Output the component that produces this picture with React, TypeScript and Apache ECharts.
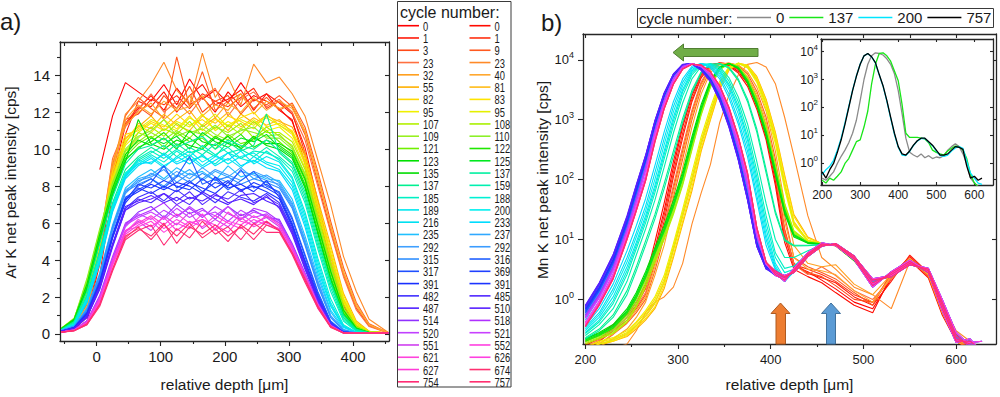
import React, { useEffect, useRef } from "react";
import * as echarts from "echarts";

const FONT = "'Liberation Sans', Arial, Helvetica, sans-serif";
const TXT = "#1a1a1a";
const AX = "#262626";

// ---------------- panel a: Ar K profiles ----------------
const depthA = [-55, -35, -15, 5, 25, 45, 65, 85, 105, 125, 145, 165, 185, 205, 225, 245, 265, 285, 305, 325, 345, 365, 385, 405, 425, 455];
const cycleNumbers = [0, 0, 1, 1, 3, 9, 23, 23, 32, 40, 55, 81, 82, 83, 95, 95, 107, 108, 109, 110, 121, 122, 123, 125, 135, 137, 137, 159, 185, 188, 189, 200, 216, 233, 235, 237, 292, 292, 315, 316, 317, 369, 391, 391, 482, 485, 487, 510, 514, 518, 520, 521, 551, 552, 621, 626, 627, 674, 754, 757];
const arCounts: (number | null)[][] = [
  [null, null, null, 8.9, 11.8, 13.6, 13.1, 12.6, 13.5, 12.4, 13.8, 12.7, 13.2, 12.5, 13.6, 12.6, 13.0, 12.1, 11.6, 9.2, 6.1, 3.4, 1.3, 0.35, 0.1, 0.05],
  [0.1, 0.25, 0.9, 3.8, 8.4, 11.3, 12.2, 12.9, 12.1, 13.3, 12.4, 12.8, 12.0, 13.1, 12.3, 12.9, 12.6, 12.2, 11.5, 9.6, 6.6, 3.9, 1.6, 0.4, 0.12, 0.05],
  [0.12, 0.2, 0.7, 3.2, 7.6, 10.8, 12.6, 12.3, 13.1, 12.0, 12.9, 13.5, 12.4, 12.7, 13.2, 12.1, 13.0, 12.5, 11.9, 10.1, 7.2, 4.2, 1.8, 0.5, 0.15, 0.05],
  [0.1, 0.3, 1.1, 4.0, 8.8, 11.6, 11.9, 12.7, 12.4, 12.9, 12.2, 13.0, 12.6, 12.3, 12.8, 13.3, 12.2, 12.6, 12.0, 9.8, 6.8, 3.7, 1.5, 0.45, 0.1, 0.05],
  [0.15, 0.4, 1.6, 4.6, 9.2, 11.4, 12.3, 11.8, 12.9, 12.2, 13.4, 12.0, 12.6, 12.9, 11.9, 12.7, 12.4, 12.9, 12.3, 10.8, 8.2, 5.6, 3.2, 1.4, 0.45, 0.06],
  [0.18, 0.45, 1.4, 4.2, 8.7, 11.8, 12.8, 12.2, 11.7, 15.0, 12.3, 14.2, 12.1, 12.6, 13.0, 12.2, 12.8, 12.1, 12.5, 11.2, 8.8, 6.1, 3.6, 1.7, 0.55, 0.06],
  [0.14, 0.38, 1.7, 4.9, 9.5, 11.2, 12.1, 13.0, 12.0, 12.6, 11.9, 12.8, 13.3, 11.8, 12.7, 13.1, 12.3, 12.7, 12.0, 10.5, 8.0, 5.5, 3.1, 1.3, 0.4, 0.05],
  [0.15, 0.35, 1.3, 4.3, 9.0, 11.9, 12.6, 13.5, 14.7, 13.2, 12.4, 15.2, 12.8, 13.9, 12.4, 14.6, 13.6, 13.9, 13.0, 11.8, 9.4, 7.0, 4.2, 2.3, 0.8, 0.08],
  [0.2, 0.5, 1.8, 5.0, 9.3, 11.3, 12.0, 12.5, 11.6, 12.2, 12.9, 11.8, 12.4, 12.1, 13.0, 11.9, 12.6, 12.2, 12.4, 11.0, 8.6, 5.8, 3.3, 1.5, 0.5, 0.06],
  [0.16, 0.42, 1.5, 4.4, 8.9, 11.6, 12.4, 11.9, 12.6, 12.1, 12.3, 12.9, 11.7, 12.5, 12.0, 12.8, 12.1, 12.6, 12.2, 10.9, 8.4, 5.9, 3.4, 1.6, 0.5, 0.06],
  [0.2, 0.6, 2.3, 5.2, 8.6, 10.6, 11.2, 11.8, 11.0, 11.6, 12.1, 11.2, 11.7, 11.0, 11.9, 11.4, 11.8, 11.5, 11.2, 9.8, 7.3, 4.8, 2.2, 0.7, 0.15, 0.05],
  [0.22, 0.65, 2.1, 4.9, 8.3, 10.3, 11.4, 11.1, 11.9, 11.3, 11.0, 11.8, 11.4, 12.0, 11.2, 11.7, 11.3, 11.6, 10.9, 9.4, 6.9, 4.4, 1.9, 0.6, 0.15, 0.05],
  [0.25, 0.7, 2.4, 5.3, 8.8, 10.8, 11.0, 11.5, 11.2, 11.9, 11.3, 11.6, 11.1, 11.8, 11.5, 11.1, 11.9, 11.3, 10.8, 9.2, 6.6, 4.2, 1.8, 0.5, 0.12, 0.05],
  [0.2, 0.6, 2.2, 5.0, 8.4, 10.5, 11.3, 10.9, 11.6, 11.1, 11.8, 11.0, 11.6, 11.3, 11.7, 12.0, 11.2, 11.4, 11.0, 9.6, 7.1, 4.6, 2.1, 0.6, 0.14, 0.05],
  [0.18, 0.55, 2.0, 4.8, 8.2, 10.2, 10.9, 11.4, 11.0, 11.5, 11.2, 11.9, 11.0, 11.5, 11.1, 11.6, 11.0, 11.2, 10.6, 9.0, 6.4, 3.9, 1.7, 0.5, 0.12, 0.05],
  [0.21, 0.62, 2.3, 5.1, 8.5, 10.4, 11.1, 11.6, 11.3, 11.0, 11.7, 11.3, 11.9, 11.2, 11.6, 11.3, 11.7, 11.3, 10.9, 9.3, 6.8, 4.3, 1.9, 0.6, 0.13, 0.05],
  [0.3, 0.8, 2.9, 5.6, 8.1, 9.9, 10.6, 11.2, 10.7, 11.4, 10.9, 11.1, 10.6, 11.3, 10.8, 11.5, 10.9, 10.9, 10.4, 8.9, 6.4, 3.9, 1.6, 0.4, 0.1, 0.05],
  [0.32, 0.85, 2.7, 5.4, 7.9, 9.7, 10.9, 10.6, 11.1, 10.8, 11.5, 10.7, 11.2, 10.9, 11.4, 10.6, 11.2, 10.7, 10.2, 8.6, 6.1, 3.7, 1.4, 0.4, 0.1, 0.05],
  [0.28, 0.78, 2.8, 5.5, 8.0, 9.9, 10.4, 10.9, 10.5, 11.0, 10.6, 11.3, 10.8, 10.5, 11.1, 10.9, 10.7, 10.8, 10.1, 8.7, 6.2, 3.6, 1.4, 0.35, 0.1, 0.05],
  [0.3, 0.82, 3.0, 5.7, 8.2, 10.0, 10.7, 11.0, 11.6, 10.7, 11.0, 10.8, 11.3, 10.7, 11.0, 11.2, 10.6, 10.6, 10.0, 8.5, 6.0, 3.5, 1.3, 0.35, 0.1, 0.05],
  [0.28, 0.75, 2.6, 5.3, 7.8, 9.6, 10.3, 10.7, 10.1, 10.9, 10.4, 10.6, 10.0, 10.8, 10.3, 10.5, 11.0, 10.4, 9.8, 8.3, 5.8, 3.3, 1.2, 0.3, 0.08, 0.05],
  [0.26, 0.72, 2.5, 5.1, 7.6, 9.4, 10.1, 10.4, 10.9, 10.2, 10.6, 10.1, 10.7, 10.3, 10.8, 10.1, 10.5, 10.2, 9.7, 8.1, 5.6, 3.1, 1.1, 0.3, 0.08, 0.05],
  [0.3, 0.8, 2.7, 5.4, 7.9, 9.7, 10.5, 10.2, 10.6, 10.0, 11.0, 10.4, 10.2, 10.7, 10.0, 10.6, 10.3, 10.3, 9.9, 8.4, 5.9, 3.4, 1.3, 0.32, 0.08, 0.05],
  [0.27, 0.74, 2.5, 5.2, 7.7, 9.5, 10.0, 10.6, 10.3, 10.7, 10.0, 10.9, 10.4, 10.1, 10.6, 10.4, 10.8, 10.1, 9.6, 8.0, 5.5, 3.0, 1.1, 0.28, 0.08, 0.05],
  [0.25, 0.7, 2.4, 5.0, 7.5, 9.3, 11.6, 10.3, 10.0, 10.5, 10.2, 10.0, 10.6, 10.3, 10.1, 10.7, 10.2, 10.0, 9.5, 7.9, 5.4, 2.9, 1.0, 0.25, 0.07, 0.05],
  [0.25, 0.68, 2.3, 4.9, 7.4, 9.2, 10.0, 10.2, 10.6, 10.1, 10.4, 10.7, 10.0, 10.5, 10.2, 10.0, 10.5, 9.9, 9.3, 7.7, 5.2, 2.8, 1.0, 0.25, 0.07, 0.05],
  [0.22, 0.6, 2.1, 4.5, 7.1, 8.9, 9.6, 10.1, 9.7, 10.3, 9.8, 10.0, 9.6, 10.4, 9.9, 10.2, 11.9, 9.8, 9.2, 7.5, 5.0, 2.7, 0.9, 0.2, 0.06, 0.05],
  [0.2, 0.58, 2.0, 4.4, 7.0, 8.7, 9.4, 9.8, 10.2, 9.6, 10.1, 9.7, 10.3, 9.8, 10.0, 9.6, 10.1, 9.6, 9.0, 7.3, 4.8, 2.5, 0.8, 0.18, 0.06, 0.05],
  [0.21, 0.6, 2.0, 4.3, 6.9, 8.6, 9.5, 9.9, 9.5, 10.0, 9.6, 10.2, 9.7, 10.1, 9.5, 9.9, 9.8, 9.5, 8.8, 7.1, 4.6, 2.3, 0.7, 0.15, 0.05, 0.05],
  [0.2, 0.5, 1.8, 4.0, 6.8, 8.6, 9.3, 9.7, 9.3, 9.9, 9.4, 9.6, 9.2, 9.8, 9.5, 9.3, 9.9, 9.4, 8.5, 6.6, 4.1, 1.9, 0.5, 0.1, 0.05, 0.05],
  [0.19, 0.48, 1.7, 3.9, 6.7, 8.5, 9.4, 9.2, 9.8, 9.3, 9.7, 9.1, 9.6, 9.4, 9.9, 9.2, 9.6, 9.3, 8.4, 6.4, 3.9, 1.7, 0.45, 0.1, 0.05, 0.05],
  [0.2, 0.52, 1.9, 4.1, 6.9, 8.7, 9.2, 9.6, 9.1, 9.5, 9.9, 9.3, 9.7, 9.2, 9.6, 9.8, 9.3, 9.1, 8.2, 6.2, 3.7, 1.6, 0.4, 0.08, 0.05, 0.05],
  [0.18, 0.47, 1.7, 3.8, 6.6, 8.4, 9.1, 9.5, 9.0, 9.6, 9.2, 9.7, 9.1, 9.5, 9.0, 9.6, 9.2, 8.9, 8.0, 6.0, 3.5, 1.5, 0.4, 0.08, 0.05, 0.05],
  [0.19, 0.5, 1.8, 4.0, 6.7, 8.5, 9.2, 9.3, 9.7, 9.2, 9.5, 9.0, 9.4, 9.8, 9.1, 9.4, 9.0, 8.8, 7.8, 5.8, 3.3, 1.3, 0.35, 0.07, 0.05, 0.05],
  [0.2, 0.42, 1.4, 3.3, 5.9, 7.9, 8.5, 8.9, 8.4, 9.0, 8.6, 8.8, 8.3, 9.1, 8.5, 8.7, 8.4, 8.3, 7.3, 5.3, 3.1, 1.2, 0.25, 0.05, 0.05, 0.05],
  [0.19, 0.4, 1.3, 3.2, 5.8, 7.7, 8.4, 8.6, 9.1, 8.5, 8.9, 8.3, 8.8, 8.5, 9.0, 8.4, 8.6, 8.2, 7.1, 5.1, 2.9, 1.0, 0.22, 0.05, 0.05, 0.05],
  [0.2, 0.41, 1.3, 3.1, 5.7, 7.8, 8.2, 8.7, 8.3, 8.8, 8.4, 9.0, 8.5, 8.2, 8.8, 8.6, 8.3, 8.1, 7.0, 5.0, 2.8, 1.0, 0.2, 0.05, 0.05, 0.05],
  [0.18, 0.39, 1.2, 3.0, 5.6, 7.6, 8.3, 8.5, 8.9, 8.2, 8.7, 8.4, 8.9, 8.6, 8.3, 8.8, 8.5, 8.0, 6.9, 4.9, 2.7, 0.9, 0.2, 0.05, 0.05, 0.05],
  [0.19, 0.4, 1.3, 3.2, 5.8, 7.7, 8.1, 8.4, 8.0, 8.6, 8.2, 8.7, 8.3, 8.5, 8.1, 8.4, 8.2, 7.9, 6.8, 4.8, 2.6, 0.9, 0.18, 0.05, 0.05, 0.05],
  [0.15, 0.35, 1.1, 2.8, 5.3, 7.3, 8.0, 8.4, 7.9, 8.5, 9.6, 8.1, 8.4, 7.8, 8.3, 8.8, 8.0, 7.7, 6.3, 4.3, 2.3, 0.7, 0.12, 0.05, 0.05, 0.05],
  [0.16, 0.36, 1.2, 2.9, 5.4, 7.4, 7.8, 8.2, 9.1, 7.9, 8.3, 7.7, 8.2, 8.0, 8.9, 7.9, 8.1, 7.6, 6.2, 4.2, 2.2, 0.65, 0.1, 0.05, 0.05, 0.05],
  [0.14, 0.34, 1.0, 2.7, 5.2, 7.2, 8.1, 7.9, 8.3, 8.0, 7.8, 8.4, 7.9, 8.3, 7.7, 8.2, 7.9, 7.5, 6.0, 4.0, 2.1, 0.6, 0.1, 0.05, 0.05, 0.05],
  [0.15, 0.35, 1.1, 2.8, 5.3, 7.3, 7.7, 8.1, 7.8, 8.2, 8.0, 7.6, 8.5, 7.9, 8.1, 7.7, 8.3, 7.4, 5.9, 3.9, 2.0, 0.55, 0.1, 0.05, 0.05, 0.05],
  [0.15, 0.34, 1.1, 2.7, 5.2, 7.1, 7.9, 7.6, 8.0, 7.7, 8.2, 7.9, 7.6, 8.2, 7.8, 8.0, 7.7, 7.3, 5.8, 3.8, 1.9, 0.5, 0.08, 0.05, 0.05, 0.05],
  [0.14, 0.3, 0.9, 2.5, 4.8, 6.8, 7.4, 7.7, 7.2, 7.8, 7.3, 7.6, 7.1, 7.7, 7.4, 7.2, 7.6, 7.1, 5.7, 3.8, 2.0, 0.6, 0.1, 0.05, 0.05, 0.05],
  [0.13, 0.29, 0.9, 2.4, 4.7, 6.7, 7.3, 7.1, 7.6, 7.2, 7.7, 7.0, 7.5, 7.3, 7.8, 7.1, 7.4, 7.0, 5.6, 3.7, 1.9, 0.55, 0.08, 0.05, 0.05, 0.05],
  [0.14, 0.31, 1.0, 2.6, 4.9, 6.9, 7.2, 7.5, 7.1, 7.4, 7.0, 7.7, 7.3, 7.0, 7.5, 7.6, 7.2, 6.9, 5.5, 3.6, 1.8, 0.5, 0.08, 0.05, 0.05, 0.05],
  [0.13, 0.3, 0.9, 2.5, 4.8, 6.7, 7.1, 7.3, 7.6, 7.0, 7.4, 7.2, 7.6, 7.1, 7.3, 7.0, 7.5, 6.8, 5.4, 3.5, 1.8, 0.5, 0.08, 0.05, 0.05, 0.05],
  [0.1, 0.22, 0.7, 2.0, 4.1, 5.9, 6.6, 6.9, 6.3, 7.0, 6.5, 6.8, 6.2, 6.9, 6.4, 6.7, 6.3, 6.2, 4.9, 3.3, 1.7, 0.5, 0.07, 0.05, 0.05, 0.05],
  [0.11, 0.23, 0.7, 2.1, 4.2, 6.0, 6.4, 6.7, 7.1, 6.4, 6.8, 6.3, 6.9, 6.5, 6.2, 6.8, 6.6, 6.1, 4.8, 3.2, 1.6, 0.45, 0.06, 0.05, 0.05, 0.05],
  [0.1, 0.21, 0.65, 1.9, 4.0, 5.8, 6.5, 6.2, 6.7, 6.3, 6.9, 6.4, 6.6, 6.1, 6.7, 6.3, 6.5, 6.0, 4.7, 3.1, 1.5, 0.4, 0.06, 0.05, 0.05, 0.05],
  [0.1, 0.22, 0.7, 2.0, 4.1, 5.9, 6.3, 6.6, 6.2, 6.8, 6.3, 6.7, 6.4, 6.9, 6.2, 6.6, 6.4, 6.0, 4.8, 3.2, 1.6, 0.45, 0.06, 0.05, 0.05, 0.05],
  [0.1, 0.2, 0.6, 1.8, 3.8, 5.5, 6.1, 5.6, 6.4, 5.9, 6.6, 5.7, 6.2, 5.8, 6.5, 6.0, 6.3, 5.8, 4.6, 3.1, 1.6, 0.45, 0.06, 0.05, 0.05, 0.05],
  [0.1, 0.2, 0.55, 1.7, 3.7, 5.4, 5.9, 6.3, 5.7, 6.2, 5.8, 6.5, 5.6, 6.1, 5.9, 6.4, 6.0, 5.7, 4.5, 3.0, 1.5, 0.4, 0.05, 0.05, 0.05, 0.05],
  [0.1, 0.19, 0.6, 1.8, 3.9, 5.6, 5.8, 6.1, 5.5, 6.0, 5.7, 6.2, 5.9, 5.5, 6.3, 5.8, 6.1, 5.6, 4.4, 2.9, 1.4, 0.4, 0.05, 0.05, 0.05, 0.05],
  [0.1, 0.2, 0.6, 1.8, 3.8, 5.5, 6.2, 5.8, 6.3, 5.6, 6.1, 5.8, 6.4, 6.0, 5.7, 6.2, 5.9, 5.7, 4.5, 3.0, 1.5, 0.4, 0.05, 0.05, 0.05, 0.05],
  [0.1, 0.21, 0.65, 1.9, 3.9, 5.6, 6.0, 6.4, 5.9, 6.5, 6.0, 6.2, 5.7, 6.6, 6.1, 5.9, 6.4, 5.9, 4.7, 3.2, 1.6, 0.45, 0.06, 0.05, 0.05, 0.05],
  [0.1, 0.18, 0.5, 1.6, 3.5, 5.2, 5.8, 5.1, 5.9, 5.3, 6.0, 5.2, 5.7, 5.0, 5.9, 5.4, 6.1, 5.6, 4.4, 2.9, 1.5, 0.4, 0.05, 0.05, 0.05, 0.05],
  [0.1, 0.17, 0.5, 1.5, 3.4, 5.1, 5.6, 5.9, 4.8, 5.7, 5.2, 6.1, 5.4, 5.8, 5.1, 6.0, 5.5, 5.5, 4.3, 2.8, 1.4, 0.35, 0.05, 0.05, 0.05, 0.05],
  [0.1, 0.18, 0.55, 1.6, 3.5, 5.3, 5.7, 5.3, 6.0, 4.9, 5.8, 5.4, 5.9, 5.3, 5.8, 5.1, 5.9, 5.6, 4.4, 3.0, 1.5, 0.4, 0.05, 0.05, 0.05, 0.05],
];

// ---------------- panel b: Mn K profiles ----------------
const depthB = [200, 215, 230, 245, 255, 265, 275, 285, 295, 305, 315, 325, 335, 345, 355, 365, 375, 385, 395, 405, 415, 425, 440, 455, 470, 490, 510, 530, 550, 570, 585, 600, 615, 628];
const mnCounts: number[][] = [
  [0.18, 0.22, 0.32, 0.55, 0.9, 1.8, 7, 30, 160, 750, 2500, 5700, 8200, 8800, 8100, 6400, 4000, 1700, 520, 95, 11, 3.6, 2.9, 2.1, 1.5, 0.9, 0.7, 2.2, 4.5, 2.3, 0.55, 0.2, 0.14, 0.12],
  [0.2, 0.25, 0.38, 0.6, 1.1, 2.2, 9, 40, 200, 850, 2700, 6000, 8400, 8700, 7900, 6000, 3600, 1500, 460, 80, 9, 3.2, 2.4, 1.9, 1.3, 0.8, 0.6, 2.5, 5.2, 2.6, 0.6, 0.22, 0.15, 0.12],
  [0.15, 0.2, 0.3, 0.5, 0.8, 1.5, 5, 20, 110, 500, 2000, 5000, 7900, 8900, 8500, 7000, 4500, 2100, 700, 130, 14, 4, 2.7, 2.3, 1.9, 1.1, 0.8, 2, 5.5, 2.8, 0.7, 0.22, 0.15, 0.12],
  [0.17, 0.22, 0.34, 0.55, 0.9, 1.7, 6, 25, 130, 600, 2200, 5300, 8000, 8800, 8300, 6800, 4300, 1900, 600, 110, 12, 3.8, 3.2, 2.6, 2, 1.2, 0.9, 2.3, 4.9, 2.5, 0.6, 0.2, 0.15, 0.12],
  [0.15, 0.2, 0.3, 0.45, 0.7, 1.2, 4, 15, 70, 300, 1300, 4000, 7500, 8800, 8600, 7500, 5000, 2400, 800, 150, 15, 4, 2.8, 2.4, 1.7, 1, 0.9, 2.6, 4.8, 2.5, 0.6, 0.2, 0.15, 0.12],
  [0.14, 0.18, 0.26, 0.4, 0.6, 1, 3, 11, 50, 220, 1000, 3300, 6800, 8500, 8800, 8000, 5800, 3000, 1100, 220, 25, 5, 3.5, 2.8, 2.2, 1.3, 0.8, 2.8, 4.6, 2.4, 0.6, 0.2, 0.15, 0.12],
  [0.16, 0.21, 0.31, 0.5, 0.75, 1.3, 4.5, 17, 80, 350, 1450, 4300, 7700, 8800, 8500, 7300, 4800, 2200, 720, 130, 13, 3.8, 2.6, 3.5, 2.5, 1.4, 1, 2.2, 4.4, 2.6, 0.65, 0.22, 0.15, 0.12],
  [0.12, 0.13, 0.15, 0.18, 0.3, 0.6, 0.9, 1.1, 1.6, 4, 18, 60, 180, 900, 2600, 5600, 8400, 9000, 7600, 4000, 1100, 250, 25, 5, 3.2, 1.6, 1.2, 0.7, 4.3, 3, 0.9, 0.3, 0.2, 0.15],
  [0.13, 0.16, 0.22, 0.32, 0.5, 0.9, 2.5, 8, 35, 160, 750, 2700, 6200, 8300, 8800, 8200, 6300, 3500, 1400, 300, 40, 8, 4, 3.5, 3.8, 1.8, 1.2, 2.6, 4.7, 2.7, 0.7, 0.22, 0.16, 0.12],
  [0.14, 0.18, 0.27, 0.42, 0.65, 1.1, 3.5, 13, 60, 260, 1150, 3700, 7200, 8700, 8700, 7700, 5300, 2700, 950, 180, 20, 5, 3.2, 3, 2.6, 1.4, 0.9, 2.4, 4.9, 2.6, 0.6, 0.2, 0.15, 0.12],
  [0.15, 0.17, 0.2, 0.24, 0.32, 0.45, 0.7, 1.5, 5, 18, 65, 300, 1000, 3200, 6700, 8700, 8200, 5300, 2200, 620, 120, 26, 11, 8.6, 7.8, 4.4, 2.1, 2.4, 4.1, 3.1, 0.9, 0.25, 0.18, 0.15],
  [0.15, 0.18, 0.21, 0.26, 0.36, 0.52, 0.85, 1.9, 6.5, 24, 90, 380, 1200, 3700, 7200, 8800, 7800, 4800, 1900, 500, 90, 20, 9.5, 8.4, 8.1, 4.6, 2, 2.5, 3.9, 3, 0.9, 0.24, 0.18, 0.15],
  [0.16, 0.19, 0.22, 0.28, 0.4, 0.6, 1, 2.2, 7.5, 28, 110, 450, 1400, 4000, 7400, 8800, 7600, 4500, 1700, 450, 80, 18, 9.5, 8.5, 8.2, 4.7, 2.1, 2.6, 4, 2.9, 0.85, 0.24, 0.17, 0.15],
  [0.15, 0.18, 0.2, 0.25, 0.34, 0.48, 0.75, 1.7, 5.5, 20, 75, 330, 1050, 3400, 6900, 8800, 8100, 5100, 2100, 580, 110, 24, 10.5, 8.6, 7.9, 4.5, 1.9, 2.5, 4.2, 3, 0.9, 0.26, 0.18, 0.15],
  [0.16, 0.2, 0.23, 0.3, 0.42, 0.65, 1.1, 2.5, 8.5, 32, 130, 520, 1600, 4400, 7700, 8700, 7300, 4200, 1500, 400, 70, 17, 9.5, 8.4, 8, 4.6, 2, 2.4, 4, 3, 0.9, 0.25, 0.18, 0.15],
  [0.15, 0.18, 0.21, 0.27, 0.37, 0.55, 0.9, 2, 7, 26, 100, 420, 1300, 3900, 7300, 8800, 7700, 4600, 1800, 480, 85, 19, 9.8, 8.5, 8.1, 4.5, 2, 2.5, 4.1, 3, 0.9, 0.25, 0.18, 0.15],
  [0.18, 0.22, 0.27, 0.42, 0.75, 1.6, 4.2, 10, 26, 80, 310, 1200, 3500, 6800, 8700, 7800, 5000, 2300, 780, 180, 40, 14, 9.2, 8.6, 8, 4.6, 2, 2.5, 4, 3, 0.9, 0.25, 0.18, 0.15],
  [0.19, 0.23, 0.28, 0.45, 0.8, 1.8, 4.6, 11, 28, 85, 330, 1250, 3600, 6900, 8700, 7700, 4900, 2200, 740, 170, 38, 13.5, 9.1, 8.5, 8.1, 4.5, 2.1, 2.4, 4.1, 3.1, 0.9, 0.25, 0.18, 0.15],
  [0.2, 0.24, 0.3, 0.5, 0.9, 2, 5, 12, 30, 90, 350, 1300, 3700, 7000, 8700, 7600, 4800, 2100, 700, 160, 35, 13, 9, 8.5, 8, 4.5, 2, 2.5, 4, 3, 0.9, 0.25, 0.18, 0.15],
  [0.2, 0.25, 0.32, 0.55, 1, 2.2, 5.5, 13, 33, 100, 380, 1400, 3900, 7200, 8700, 7500, 4600, 2000, 660, 150, 33, 12.5, 9, 8.4, 8, 4.4, 2, 2.6, 4, 2.9, 0.85, 0.24, 0.18, 0.15],
  [0.21, 0.26, 0.34, 0.6, 1.1, 2.4, 6, 14, 36, 110, 420, 1500, 4100, 7400, 8700, 7400, 4500, 1900, 620, 140, 31, 12, 8.8, 8.4, 8.1, 4.6, 2, 2.5, 4.1, 3, 0.9, 0.25, 0.18, 0.15],
  [0.2, 0.25, 0.33, 0.58, 1.05, 2.3, 5.8, 13.5, 35, 105, 400, 1450, 4000, 7300, 8700, 7500, 4550, 1950, 640, 145, 32, 12, 8.9, 8.5, 8, 4.5, 2, 2.5, 4, 3, 0.9, 0.25, 0.18, 0.15],
  [0.22, 0.27, 0.36, 0.65, 1.2, 2.6, 6.5, 15, 40, 120, 460, 1600, 4300, 7500, 8700, 7300, 4300, 1800, 580, 130, 29, 11.5, 8.8, 8.4, 8, 4.5, 2, 2.5, 4, 3, 0.9, 0.25, 0.18, 0.15],
  [0.21, 0.26, 0.35, 0.62, 1.15, 2.5, 6.2, 14.5, 38, 115, 440, 1550, 4200, 7400, 8700, 7400, 4400, 1850, 600, 135, 30, 11.8, 8.8, 8.4, 8, 4.5, 2, 2.5, 4, 3, 0.9, 0.25, 0.18, 0.15],
  [0.22, 0.28, 0.38, 0.7, 1.3, 2.9, 7.2, 17, 45, 135, 520, 1800, 4600, 7700, 8700, 7100, 4100, 1700, 540, 120, 27, 11, 8.7, 8.3, 8, 4.5, 2, 2.5, 4, 3, 0.9, 0.25, 0.18, 0.15],
  [0.22, 0.3, 0.5, 1.2, 3, 8, 22, 70, 250, 900, 2800, 6000, 8300, 8700, 7500, 4800, 2200, 700, 150, 30, 10, 8, 8, 8.3, 8.1, 4.8, 2, 2.5, 4, 3, 0.85, 0.24, 0.18, 0.15],
  [0.23, 0.32, 0.55, 1.4, 3.5, 9.5, 26, 85, 300, 1050, 3100, 6300, 8400, 8600, 7200, 4500, 2000, 620, 130, 27, 9.5, 7.8, 7.9, 8.2, 8, 4.7, 2, 2.5, 4, 3, 0.85, 0.24, 0.18, 0.15],
  [0.25, 0.38, 0.7, 2, 5.5, 15, 45, 160, 600, 1900, 4800, 7800, 8700, 7700, 5000, 2400, 850, 200, 40, 10, 5, 5, 6.5, 8.1, 8.2, 4.8, 2, 2.5, 4, 3, 0.85, 0.24, 0.18, 0.15],
  [0.27, 0.42, 0.85, 2.6, 7, 19, 60, 220, 800, 2500, 5600, 8200, 8600, 7200, 4400, 2000, 650, 140, 25, 6, 3.3, 3.6, 5.8, 8, 8.2, 4.9, 1.9, 2.6, 4, 3, 0.8, 0.23, 0.18, 0.15],
  [0.28, 0.45, 0.95, 3, 8, 22, 70, 260, 950, 2900, 6100, 8500, 8400, 6700, 3900, 1700, 520, 110, 19, 5, 2.8, 3.2, 5.6, 8, 8.2, 5, 1.9, 2.6, 4, 3, 0.8, 0.22, 0.18, 0.15],
  [0.3, 0.5, 1.1, 3.5, 9, 25, 80, 300, 1100, 3200, 6500, 8600, 8300, 6300, 3600, 1500, 450, 90, 15, 4, 2.2, 3, 5.5, 8, 8.2, 5, 1.9, 2.6, 4, 3, 0.8, 0.22, 0.18, 0.15],
  [0.32, 0.55, 1.3, 4.2, 11, 30, 100, 380, 1350, 3700, 6900, 8700, 8000, 5800, 3200, 1250, 370, 72, 12, 3.6, 2, 2.9, 5.5, 8.1, 8.3, 5, 1.9, 2.6, 4, 3, 0.8, 0.22, 0.18, 0.15],
  [0.34, 0.6, 1.5, 5, 13, 36, 130, 480, 1650, 4200, 7400, 8700, 7600, 5300, 2700, 1000, 300, 55, 10, 3.3, 2, 2.9, 5.5, 8, 8.2, 5, 1.9, 2.6, 4, 3, 0.8, 0.22, 0.18, 0.15],
  [0.36, 0.7, 1.8, 6.5, 17, 48, 170, 620, 2000, 4800, 7800, 8700, 7300, 4800, 2300, 850, 240, 45, 8, 3.1, 2.1, 2.9, 5.4, 8, 8.2, 5, 1.9, 2.6, 4, 3, 0.8, 0.22, 0.18, 0.15],
  [0.45, 1.1, 3.2, 14, 45, 150, 640, 2000, 4700, 7600, 8700, 7900, 5700, 3100, 1250, 390, 90, 12, 4, 2.6, 2.1, 3.1, 5.8, 8.4, 8.1, 4.7, 1.7, 2.8, 4.3, 2.8, 0.7, 0.2, 0.2, 0.14],
  [0.5, 1.2, 3.5, 15, 50, 170, 700, 2200, 5000, 7800, 8700, 7800, 5600, 3000, 1200, 380, 85, 12, 4, 3, 2.4, 2.8, 5.2, 7.7, 8.6, 5.3, 2.1, 2.4, 3.8, 3.2, 0.9, 0.25, 0.16, 0.17],
  [0.55, 1.3, 3.8, 16, 54, 180, 740, 2300, 5200, 8000, 8700, 7600, 5300, 2800, 1100, 340, 75, 11, 3.8, 2.7, 2, 3.3, 6, 8.8, 7.9, 4.6, 1.6, 2.9, 4.5, 2.9, 0.65, 0.19, 0.22, 0.13],
  [0.5, 1.25, 3.6, 15.5, 52, 175, 720, 2250, 5100, 7900, 8700, 7700, 5400, 2900, 1150, 360, 80, 11.5, 3.9, 2.9, 2.5, 2.9, 5.3, 7.9, 8.5, 5.2, 2.2, 2.5, 3.9, 3.3, 1, 0.28, 0.17, 0.16],
  [0.58, 1.35, 3.9, 17, 57, 190, 770, 2400, 5300, 8100, 8700, 7400, 5000, 2600, 1000, 300, 65, 10, 3.6, 2.5, 2.2, 3.2, 5.6, 8.2, 8.2, 4.9, 1.8, 2.7, 4.1, 3.1, 0.75, 0.21, 0.19, 0.2],
  [0.62, 1.45, 4.2, 19, 62, 205, 810, 2500, 5500, 8200, 8700, 7200, 4800, 2400, 900, 260, 55, 9, 3.5, 2.8, 2.3, 3, 5.5, 8, 8.3, 5, 1.9, 2.6, 4, 3, 0.8, 0.22, 0.18, 0.15],
  [0.6, 1.4, 4, 18, 60, 200, 800, 2500, 5500, 8200, 8700, 7200, 4800, 2400, 900, 260, 55, 9, 3.5, 2.6, 2.1, 3.1, 5.8, 8.4, 8.1, 4.7, 1.7, 2.8, 4.3, 2.8, 0.7, 0.2, 0.2, 0.14],
  [0.65, 1.5, 4.4, 20, 66, 215, 840, 2550, 5550, 8250, 8650, 7100, 4700, 2300, 860, 245, 52, 8.6, 3.4, 3, 2.4, 2.8, 5.2, 7.7, 8.6, 5.3, 2.1, 2.4, 3.8, 3.2, 0.9, 0.25, 0.16, 0.17],
  [0.7, 1.6, 4.7, 21, 70, 225, 870, 2600, 5600, 8300, 8600, 7000, 4600, 2250, 830, 235, 50, 8.3, 3.4, 2.7, 2, 3.3, 6, 8.8, 7.9, 4.6, 1.6, 2.9, 4.5, 2.9, 0.65, 0.19, 0.22, 0.13],
  [0.68, 1.55, 4.5, 20.5, 68, 220, 850, 2580, 5580, 8280, 8620, 7050, 4650, 2280, 845, 240, 51, 8.5, 3.4, 2.9, 2.5, 2.9, 5.3, 7.9, 8.5, 5.2, 2.2, 2.5, 3.9, 3.3, 1, 0.28, 0.17, 0.16],
  [0.72, 1.7, 5, 22, 74, 235, 900, 2650, 5650, 8300, 8600, 6900, 4500, 2200, 800, 225, 48, 8, 3.3, 2.5, 2.2, 3.2, 5.6, 8.2, 8.2, 4.9, 1.8, 2.7, 4.1, 3.1, 0.75, 0.21, 0.19, 0.2],
  [0.75, 1.8, 5.3, 23, 78, 245, 930, 2700, 5700, 8350, 8550, 6800, 4400, 2150, 780, 220, 47, 7.8, 3.3, 2.8, 2.3, 3, 5.5, 8, 8.3, 5, 1.9, 2.6, 4, 3, 0.8, 0.22, 0.18, 0.15],
  [0.78, 1.85, 5.5, 24, 80, 250, 950, 2750, 5750, 8350, 8550, 6750, 4350, 2100, 760, 215, 46, 7.7, 3.2, 2.6, 2.1, 3.1, 5.8, 8.4, 8.1, 4.7, 1.7, 2.8, 4.3, 2.8, 0.7, 0.2, 0.2, 0.14],
  [0.8, 1.9, 5.6, 25, 82, 255, 960, 2800, 5800, 8400, 8500, 6700, 4300, 2050, 740, 210, 45, 7.6, 3.2, 3, 2.4, 2.8, 5.2, 7.7, 8.6, 5.3, 2.1, 2.4, 3.8, 3.2, 0.9, 0.25, 0.16, 0.17],
  [0.55, 1.2, 3.5, 15, 48, 160, 650, 2100, 4900, 7800, 8700, 7600, 5300, 2800, 1100, 330, 75, 11, 3.8, 2.7, 2, 3.3, 6, 8.8, 7.9, 4.6, 1.6, 2.9, 4.5, 2.9, 0.65, 0.19, 0.22, 0.13],
  [0.52, 1.15, 3.3, 14.5, 46, 155, 630, 2050, 4850, 7750, 8700, 7650, 5350, 2850, 1120, 340, 77, 11.2, 3.8, 2.9, 2.5, 2.9, 5.3, 7.9, 8.5, 5.2, 2.2, 2.5, 3.9, 3.3, 1, 0.28, 0.17, 0.16],
  [0.5, 1.1, 3.2, 14, 44, 150, 610, 2000, 4800, 7700, 8700, 7700, 5400, 2900, 1150, 350, 80, 11.5, 3.9, 2.5, 2.2, 3.2, 5.6, 8.2, 8.2, 4.9, 1.8, 2.7, 4.1, 3.1, 0.75, 0.21, 0.19, 0.2],
  [0.48, 1.05, 3, 13.5, 42, 140, 590, 1950, 4700, 7600, 8650, 7750, 5500, 3000, 1200, 370, 85, 12, 3.9, 2.8, 2.3, 3, 5.5, 8, 8.3, 5, 1.9, 2.6, 4, 3, 0.8, 0.22, 0.18, 0.15],
  [0.42, 0.95, 2.7, 12.5, 37, 120, 520, 1750, 4300, 7300, 8550, 7950, 5900, 3300, 1350, 430, 100, 13, 4, 2.6, 2.1, 3.1, 5.8, 8.4, 8.1, 4.7, 1.7, 2.8, 4.3, 2.8, 0.7, 0.2, 0.2, 0.14],
  [0.4, 0.9, 2.5, 12, 35, 110, 500, 1700, 4200, 7200, 8500, 8000, 6000, 3400, 1400, 450, 110, 14, 4, 3, 2.4, 2.8, 5.2, 7.7, 8.6, 5.3, 2.1, 2.4, 3.8, 3.2, 0.9, 0.25, 0.16, 0.17],
  [0.38, 0.88, 2.4, 11.5, 34, 105, 480, 1650, 4100, 7100, 8500, 8050, 6100, 3500, 1450, 470, 115, 14.5, 4.1, 2.7, 2, 3.3, 6, 8.8, 7.9, 4.6, 1.6, 2.9, 4.5, 2.9, 0.65, 0.19, 0.22, 0.13],
  [0.4, 0.9, 2.5, 12, 35, 110, 500, 1700, 4200, 7200, 8500, 8000, 6000, 3400, 1400, 450, 110, 14, 4, 2.9, 2.5, 2.9, 5.3, 7.9, 8.5, 5.2, 2.2, 2.5, 3.9, 3.3, 1, 0.28, 0.17, 0.16],
  [0.37, 0.85, 2.35, 11, 33, 100, 470, 1620, 4050, 7050, 8480, 8080, 6150, 3550, 1480, 480, 118, 15, 4.1, 2.5, 2.2, 3.2, 5.6, 8.2, 8.2, 4.9, 1.8, 2.7, 4.1, 3.1, 0.75, 0.21, 0.19, 0.2],
  [0.35, 0.8, 2.2, 10, 30, 95, 420, 1500, 3900, 7000, 8400, 8200, 6300, 3700, 1600, 520, 130, 16, 4.2, 2.8, 2.3, 3, 5.5, 8, 8.3, 5, 1.9, 2.6, 4, 3, 0.8, 0.22, 0.18, 0.15],
  [0.36, 0.82, 2.25, 10.5, 31, 98, 440, 1550, 3950, 7050, 8420, 8150, 6250, 3650, 1570, 510, 125, 15.5, 4.2, 2.6, 2.1, 3.1, 5.8, 8.4, 8.1, 4.7, 1.7, 2.8, 4.3, 2.8, 0.7, 0.2, 0.2, 0.14],
  [0.35, 0.8, 2.2, 10, 30, 95, 420, 1500, 3900, 7000, 8400, 8200, 6300, 3700, 1600, 520, 130, 16, 4.2, 3, 2.4, 2.8, 5.2, 7.7, 8.6, 5.3, 2.1, 2.4, 3.8, 3.2, 0.9, 0.25, 0.16, 0.17],
];

// ---------------- inset ----------------
const insetDepth = [200, 210, 220, 230, 240, 250, 260, 270, 280, 290, 300, 310, 320, 330, 340, 350, 360, 370, 380, 390, 400, 410, 420, 430, 440, 450, 460, 470, 480, 490, 500, 510, 520, 530, 540, 550, 560, 570, 580, 590, 600, 610, 620];
const insetCycles = ["0", "137", "200", "757"];
const insetMn0 = [0.3, 0.25, 0.35, 0.5, 1, 1.8, 3, 5.5, 12, 35, 180, 1000, 3500, 7000, 9000, 8500, 7500, 5500, 3500, 1600, 400, 60, 8, 2.5, 2, 1.7, 2.2, 1.6, 1.9, 1.5, 1.7, 1.6, 1.9, 3, 4, 5, 4, 2.2, 1, 0.3, 0.2, 0.15, 0.12];
const insetMn137 = [0.25, 0.2, 0.3, 0.25, 0.35, 0.5, 1, 1.5, 3, 6, 7, 20, 75, 700, 3500, 8500, 9000, 7000, 4500, 2000, 900, 130, 12, 8.5, 8.5, 8.5, 8, 7.5, 5.5, 3, 2.5, 2.2, 2, 2.8, 3.5, 4.2, 4, 3, 1.5, 0.4, 0.2, 0.15, 0.12];
const insetMn200 = [0.4, 0.6, 0.8, 1.3, 3, 8, 28, 110, 420, 1350, 3600, 7000, 8400, 6400, 3900, 1450, 580, 170, 42, 11, 3.8, 2, 1.9, 2.7, 4.4, 6.3, 7.8, 7.8, 5.8, 4.3, 2.8, 1.9, 1.8, 2, 2.8, 3.6, 4, 3.5, 1.2, 0.45, 0.3, 0.2, 0.18];
const insetMn757 = [0.5, 0.3, 0.6, 1, 2.5, 7, 25, 100, 400, 1300, 3500, 7000, 8500, 6500, 4000, 1500, 600, 180, 45, 12, 4, 2.2, 2, 2.8, 4.5, 6.5, 8, 8, 6, 4.5, 3, 2, 2, 2.2, 3, 4, 3.8, 3.2, 0.8, 0.3, 0.35, 0.25, 0.3];

// ---------------- ticks ----------------
const xTicksA = [0, 100, 200, 300, 400];
const xMinorA = [-50, 50, 150, 250, 350, 450];
const xTopA = [-50, 0, 50, 100, 150, 200, 250, 300, 350, 400, 450];
const yTicksA = [0, 2, 4, 6, 8, 10, 12, 14];
const yMinorA = [1, 3, 5, 7, 9, 11, 13, 15];
const xTicksB = [200, 300, 400, 500, 600];
const xMinorB = [250, 350, 450, 550];
const xTopB = [200, 250, 300, 350, 400, 450, 500, 550, 600];
const decades = [1, 10, 100, 1000, 10000];
const xTicksInset = [200, 300, 400, 500, 600];

// ---------------- styles ----------------
const lineColors = [
  "#ff0000", "#ff0a00", "#ff1a0a", "#ff3010", "#ff4a18", "#ff5a20", "#ff7040", "#ff8a28", "#ffa020", "#ffa830",
  "#ffb000", "#ffbc18", "#ffd800", "#ffe400", "#f0f000", "#e4f000", "#b4f000", "#a8f000", "#98f020", "#8cf028",
  "#70f000", "#20e800", "#00e000", "#00e820", "#00dc00", "#00f0a0", "#00f090", "#00f0b0", "#00f0c4", "#00f0d4",
  "#00e8f0", "#00f0f0", "#00e0f0", "#00dcff", "#20c0ff", "#30a8ff", "#40a0ff", "#3c9cff", "#3090ff", "#2060ff",
  "#2050ff", "#2040ff", "#1830ff", "#1c34ff", "#4030ff", "#5028ff", "#5020ff", "#5820ff", "#9030ff", "#b030ff",
  "#c040ff", "#c840ff", "#d040f0", "#ff40e0", "#ff44dc", "#ff40e0", "#ff3cd8", "#ff3070", "#ff2c74", "#ff3070",
];
const insetColors = ["#8a8a8a", "#19e619", "#00e5ff", "#000000"];

function buildOption(): any {
  const axLine = { show: true, onZero: false, lineStyle: { color: AX, width: 1.3 } };
  const noLine = { show: false, onZero: false };
  const tick = (values: number[], len: number, inside: boolean) => ({
    show: true, customValues: values, length: len, inside, lineStyle: { color: AX, width: 1.1 },
  });
  const lbl = (values: number[], size: number, margin: number) => ({
    show: true, customValues: values, fontSize: size, fontFamily: FONT, color: TXT, margin,
  });
  const logLbl = (size: number, sup: number, margin: number) => ({
    show: true, customValues: decades, margin,
    formatter: (v: number) => `{b|10}{s|${Math.round(Math.log10(v))}}`,
    rich: {
      b: { fontSize: size, fontFamily: FONT, color: TXT, lineHeight: size + 5 },
      s: { fontSize: sup, fontFamily: FONT, color: TXT, verticalAlign: "top", lineHeight: sup + 1 },
    },
  });
  const none = { show: false };
  const nameStyle = (pad: number[] = [0, 0, 0, 0]) => ({ fontSize: 15.5, fontFamily: FONT, color: TXT, padding: pad });

  const xAxis = [
    { type: "value", gridIndex: 0, position: "bottom", min: -57, max: 456, axisLine: axLine, axisTick: tick(xTicksA, 5, false), axisLabel: lbl(xTicksA, 15, 8), splitLine: none, name: "relative depth [μm]", nameLocation: "middle", nameGap: 35, nameTextStyle: nameStyle() },
    { type: "value", gridIndex: 0, position: "bottom", min: -57, max: 456, axisLine: noLine, axisTick: tick(xMinorA, 3, false), axisLabel: none, splitLine: none },
    { type: "value", gridIndex: 0, position: "top", min: -57, max: 456, axisLine: axLine, axisTick: tick(xTopA, 4, true), axisLabel: none, splitLine: none },
    { type: "value", gridIndex: 1, position: "bottom", min: 197.5, max: 643, axisLine: axLine, axisTick: tick(xTicksB, 5, false), axisLabel: lbl(xTicksB, 13, 9), splitLine: none, name: "relative depth [μm]", nameLocation: "middle", nameGap: 32, nameTextStyle: nameStyle() },
    { type: "value", gridIndex: 1, position: "bottom", min: 197.5, max: 643, axisLine: noLine, axisTick: tick(xMinorB, 3, false), axisLabel: none, splitLine: none },
    { type: "value", gridIndex: 1, position: "top", min: 197.5, max: 643, axisLine: axLine, axisTick: tick(xTopB, 4, true), axisLabel: none, splitLine: none },
    { type: "value", gridIndex: 2, position: "bottom", min: 197, max: 649, axisLine: axLine, axisTick: tick(xTicksInset, 3, true), axisLabel: lbl(xTicksInset, 12, 4), splitLine: none, z: 4 },
    { type: "value", gridIndex: 2, position: "top", min: 197, max: 649, axisLine: axLine, axisTick: tick(xTicksInset, 3, true), axisLabel: none, splitLine: none, z: 4 },
  ];
  const yAxis = [
    { type: "value", gridIndex: 0, position: "left", min: -0.38, max: 15.8, axisLine: axLine, axisTick: tick(yTicksA, 5, false), axisLabel: lbl(yTicksA, 15, 10), splitLine: none, name: "Ar K net peak intensity [cps]", nameLocation: "middle", nameGap: 42, nameTextStyle: nameStyle([0, 0, 0, 18]) },
    { type: "value", gridIndex: 0, position: "left", min: -0.38, max: 15.8, axisLine: noLine, axisTick: tick(yMinorA, 3, false), axisLabel: none, splitLine: none },
    { type: "value", gridIndex: 0, position: "right", min: -0.38, max: 15.8, axisLine: axLine, axisTick: tick(yTicksA, 4, true), axisLabel: none, splitLine: none },
    { type: "log", logBase: 10, gridIndex: 1, position: "left", min: 0.18, max: 27000, axisLine: axLine, axisTick: tick(decades, 5, false), axisLabel: logLbl(13, 9, 9), splitLine: none, name: "Mn K net peak intensity [cps]", nameLocation: "middle", nameGap: 27, nameTextStyle: nameStyle([0, 0, 0, 18]) },
    { type: "log", logBase: 10, gridIndex: 1, position: "right", min: 0.18, max: 27000, axisLine: axLine, axisTick: tick(decades, 4, true), axisLabel: none, splitLine: none },
    { type: "log", logBase: 10, gridIndex: 2, position: "left", min: 0.17, max: 28000, axisLine: axLine, axisTick: tick(decades, 3, true), axisLabel: logLbl(12, 8, 3), splitLine: none, z: 4 },
    { type: "log", logBase: 10, gridIndex: 2, position: "right", min: 0.17, max: 28000, axisLine: axLine, axisTick: tick(decades, 3, true), axisLabel: none, splitLine: none, z: 4 },
  ];

  const series: any[] = [];
  arCounts.forEach((vals, i) => {
    series.push({
      type: "line", name: `a ${cycleNumbers[i]}`, xAxisIndex: 0, yAxisIndex: 0,
      data: depthA.map((d, j) => [d, vals[j]]),
      symbol: "none", showSymbol: false, silent: true, z: 2,
      lineStyle: { width: 1.1, color: lineColors[i] },
    });
  });
  mnCounts.forEach((vals, i) => {
    series.push({
      type: "line", name: `b ${cycleNumbers[i]}`, xAxisIndex: 3, yAxisIndex: 3,
      data: depthB.map((d, j) => [d, vals[j]]),
      symbol: "none", showSymbol: false, silent: true, z: 2, clip: true,
      lineStyle: { width: 1.1, color: lineColors[i] },
    });
  });
  const insetSets = [insetMn0, insetMn137, insetMn200, insetMn757];
  insetSets.forEach((vals, k) => {
    series.push({
      type: "line", name: insetCycles[k], xAxisIndex: 6, yAxisIndex: 5,
      data: insetDepth.map((d, j) => [d, vals[j]]),
      symbol: "none", showSymbol: false, silent: true, z: 5, clip: true,
      lineStyle: { width: 1.3, color: insetColors[k] },
      itemStyle: { color: insetColors[k] },
    });
  });

  const graphic: any[] = [];
  const t = (x: number, y: number, text: string, size: number, extra: any = {}) => ({
    type: "text", x, y, ...extra,
    style: { text, font: `${size}px ${FONT}`, fill: TXT, textVerticalAlign: "middle", verticalAlign: "middle" },
  });
  graphic.push(t(0, 21, "a)", 24));
  graphic.push(t(541, 22, "b)", 24));
  // legend of panel a
  graphic.push({ type: "rect", shape: { x: 397.5, y: 1.5, width: 113.5, height: 385.5 }, style: { fill: "#fff", stroke: "#3a3a3a", lineWidth: 1 }, z: 1 });
  graphic.push({ ...t(400, 12.5, "cycle number:", 16), z: 2 });
  cycleNumbers.forEach((c, i) => {
    const row = Math.floor(i / 2);
    const col = i % 2;
    const x0 = 398 + col * 71.5;
    const y = 25.7 + row * 12.28;
    graphic.push({ type: "line", z: 2, shape: { x1: x0, y1: y, x2: x0 + 21, y2: y }, style: { stroke: lineColors[i], lineWidth: 1.6 } });
    graphic.push({ ...t(x0 + 25, y + 0.5, String(c), 12, { scaleX: 0.78 }), z: 2 });
  });
  // legend box of panel b
  graphic.push({ type: "rect", shape: { x: 637.5, y: 8.5, width: 356, height: 19 }, style: { fill: "none", stroke: "#3a3a3a", lineWidth: 1 } });
  graphic.push(t(639, 18, "cycle number:", 15));
  // inset white background
  graphic.push({ type: "rect", shape: { x: 821, y: 39, width: 172, height: 146 }, style: { fill: "#fff" }, z: 3 });
  // arrows
  graphic.push({ type: "polygon", z: 6, shape: { points: [[673, 52.5], [683.5, 44], [683.5, 48.5], [758, 48.5], [758, 56.5], [683.5, 56.5], [683.5, 61]] }, style: { fill: "#70ad47", stroke: "#507e32", lineWidth: 1 } });
  graphic.push({ type: "polygon", z: 6, shape: { points: [[780.5, 303], [790, 313.5], [785.5, 313.5], [785.5, 344], [776, 344], [776, 313.5], [771, 313.5]] }, style: { fill: "#ed7d31", stroke: "#ae5a21", lineWidth: 1 } });
  graphic.push({ type: "polygon", z: 6, shape: { points: [[831, 303], [840.5, 313.5], [835.5, 313.5], [835.5, 344], [826.5, 344], [826.5, 313.5], [821.5, 313.5]] }, style: { fill: "#5b9bd5", stroke: "#41719c", lineWidth: 1 } });

  return {
    animation: false,
    backgroundColor: "#fff",
    textStyle: { fontFamily: FONT },
    grid: [
      { left: 60, top: 42, width: 329, height: 300 },
      { left: 583, top: 34, width: 413, height: 313 },
      { left: 821, top: 39, width: 172, height: 146 },
    ],
    legend: {
      data: insetCycles, left: 737, top: 10, padding: 0, icon: "rect", itemWidth: 34, itemHeight: 1.6, itemGap: 5,
      selectedMode: false, textStyle: { fontSize: 15, fontFamily: FONT, color: TXT },
    },
    xAxis, yAxis, series, graphic,
  };
}

export default function App() {
  const ref = useRef<HTMLDivElement>(null);
  useEffect(() => {
    if (!ref.current) return;
    const chart = echarts.init(ref.current, null, { renderer: "svg" });
    chart.setOption(buildOption());
    return () => chart.dispose();
  }, []);
  return <div ref={ref} style={{ position: "absolute", left: 0, top: 0, width: 1000, height: 397, background: "#fff" }} />;
}
